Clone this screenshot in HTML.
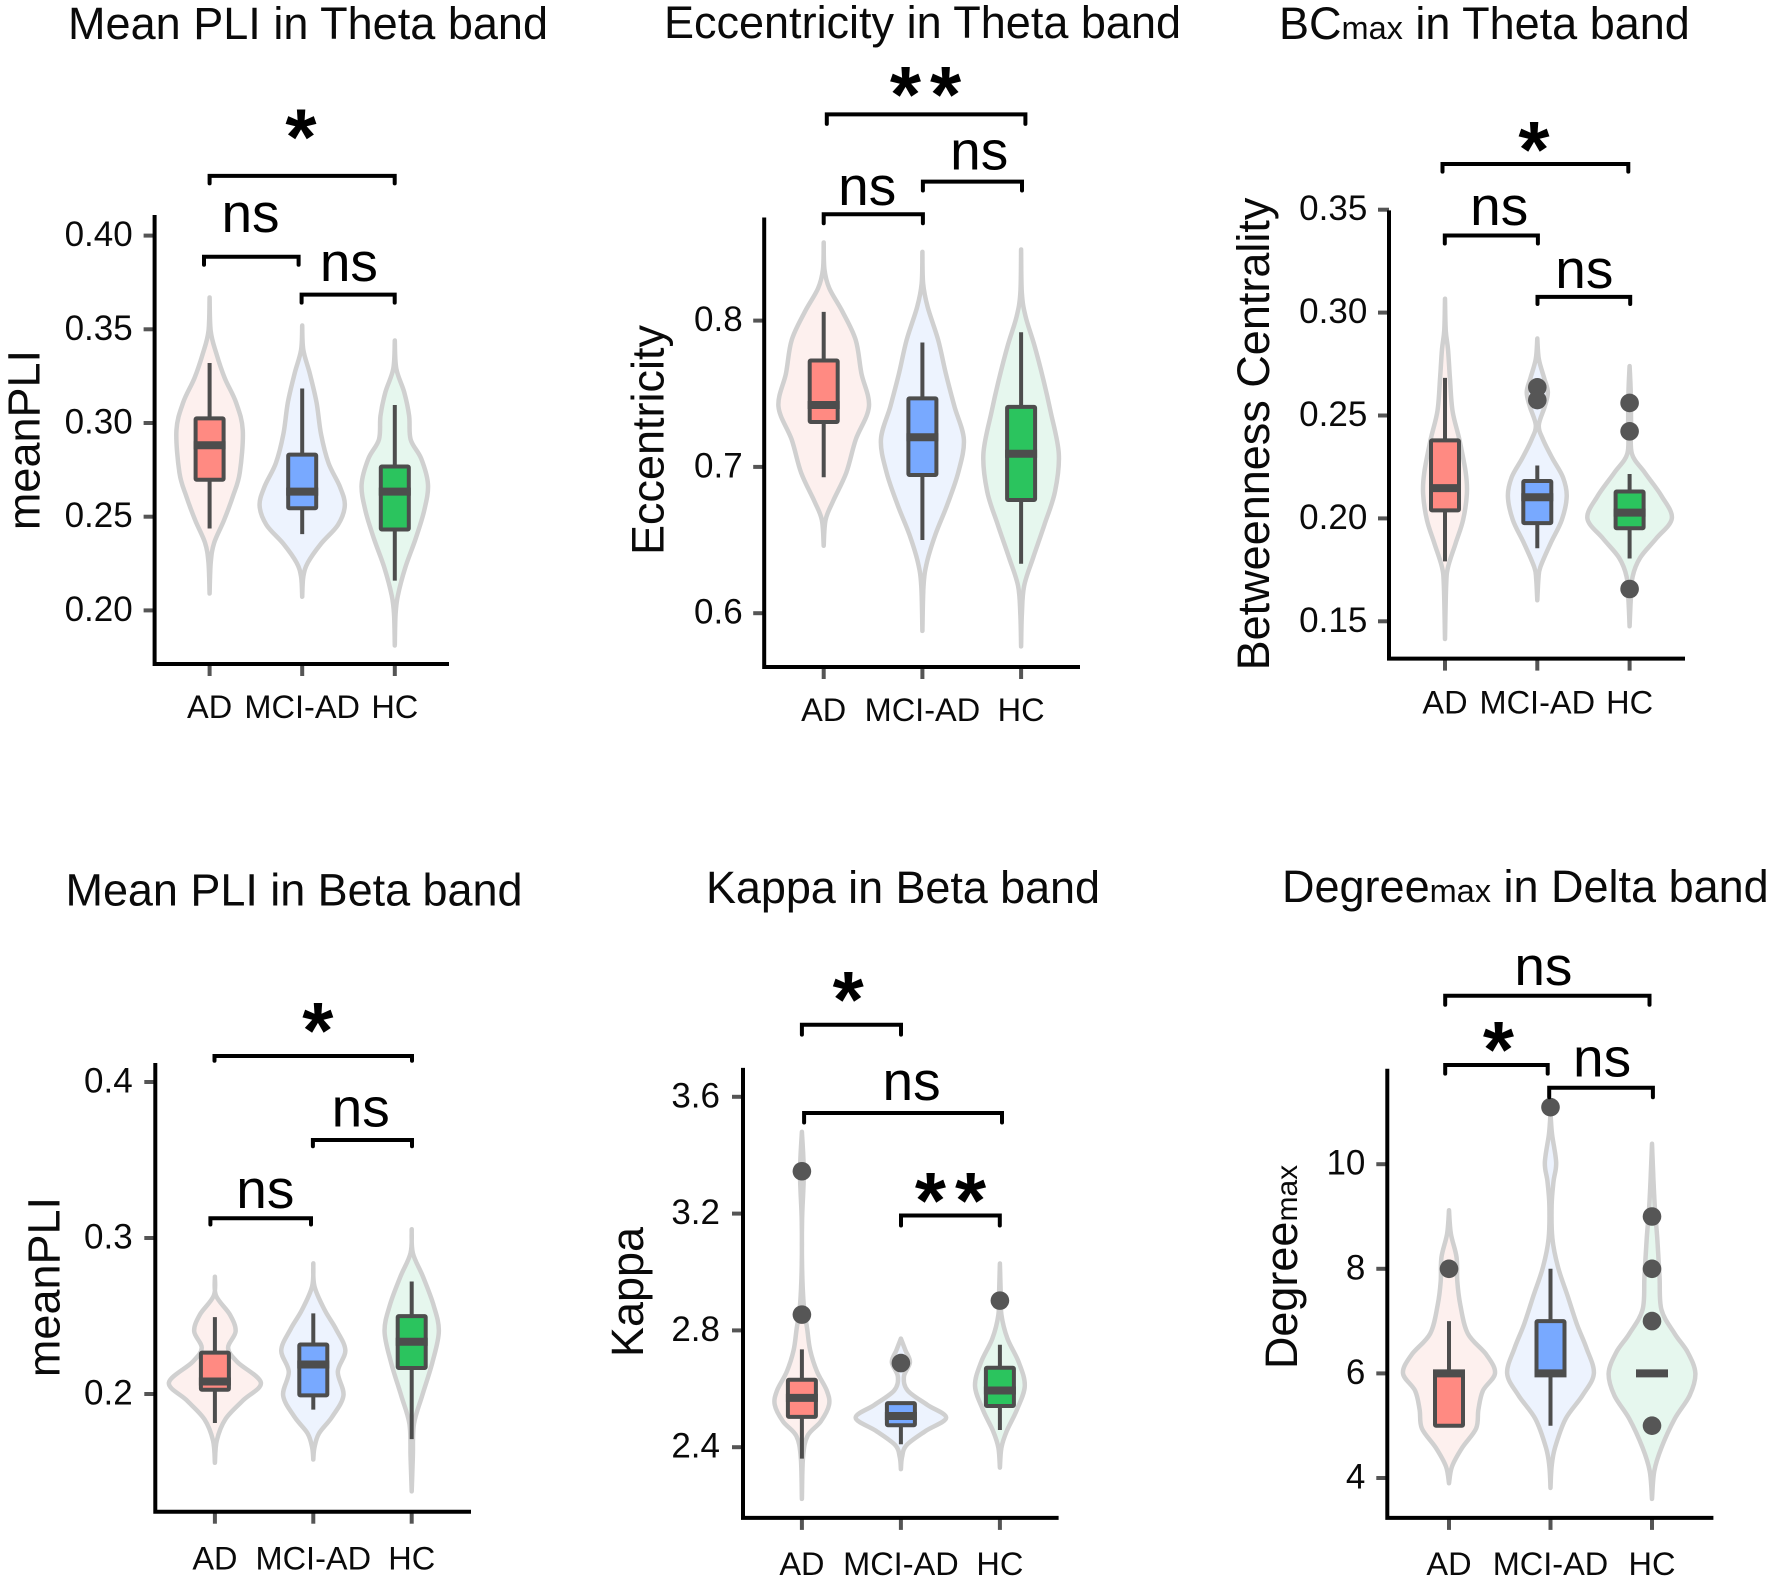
<!DOCTYPE html>
<html lang="en">
<head>
<meta charset="utf-8">
<title>Violin and box plots of network measures</title>
<style>
html,body{margin:0;padding:0;background:#fff;}
svg{display:block;}
text{font-family:"Liberation Sans",sans-serif;fill:#0a0a0a;}
.title{font-size:45px;}
.sub{font-size:32.5px;}
.ylab{font-size:45px;text-anchor:middle;}
.ylabsub{font-size:30px;}
.ns{font-size:55px;text-anchor:middle;fill:#000;}
.star{font-size:80px;font-weight:bold;text-anchor:middle;fill:#000;}
.stars{letter-spacing:9px;}
.br{fill:none;stroke:#000;stroke-width:4;stroke-linecap:round;}
</style>
</head>
<body>
<svg id="figure" xmlns="http://www.w3.org/2000/svg" width="1772" height="1583" viewBox="0 0 1772 1583">
<rect x="0" y="0" width="1772" height="1583" fill="#fff"/>

<g id="panel-1">
<text class="title" x="68" y="39" textLength="480">Mean PLI in Theta band</text>
<text class="ylab" transform="translate(39.6 440) rotate(-90)">meanPLI</text>
</g>
<g id="panel-2">
<text class="title" x="664" y="38" textLength="517">Eccentricity in Theta band</text>
<text class="ylab" transform="translate(663.5 440) rotate(-90)">Eccentricity</text>
</g>
<g id="panel-3">
<text class="title" x="1279" y="39">BC<tspan class="sub">max</tspan> in Theta band</text>
<text class="ylab" transform="translate(1268.9 434) rotate(-90)">Betweenness Centrality</text>
</g>
<g id="panel-4">
<text class="title" x="65.5" y="905.5" textLength="457">Mean PLI in Beta band</text>
<text class="ylab" transform="translate(59.6 1287) rotate(-90)">meanPLI</text>
</g>
<g id="panel-5">
<text class="title" x="706" y="903" textLength="394">Kappa in Beta band</text>
<text class="ylab" transform="translate(642.8 1292) rotate(-90)">Kappa</text>
</g>
<g id="panel-6">
<text class="title" x="1282" y="902">Degree<tspan class="sub">max</tspan> in Delta band</text>
<text class="ylab" transform="translate(1297 1267) rotate(-90)">Degree<tspan class="ylabsub">max</tspan></text>
</g>

<g id="annotations-1">
<path class="br" d="M209.6 183.4V175.9H394.7V183.4"/>
<text class="star" x="301" y="164.5">*</text>
<path class="br" d="M204 264.8V256.7H298.6V264.8"/>
<text class="ns" x="250.5" y="232">ns</text>
<path class="br" d="M301.6 302.6V294.6H394.7V302.6"/>
<text class="ns" x="348.9" y="281">ns</text>
</g>
<g id="annotations-2">
<path class="br" d="M826.8 123.9V114.4H1025.4V123.9"/>
<text class="star stars" x="930" y="122">**</text>
<path class="br" d="M823.7 223.2V214.2H922.9V223.2"/>
<text class="ns" x="867.2" y="205">ns</text>
<path class="br" d="M922.9 190.5V181.6H1022V190.5"/>
<text class="ns" x="979.2" y="169.5">ns</text>
</g>
<g id="annotations-3">
<path class="br" d="M1442.5 171.6V164H1628.3V171.6"/>
<text class="star" x="1534" y="177">*</text>
<path class="br" d="M1444.8 243.5V235.5H1537.9V243.5"/>
<text class="ns" x="1499.2" y="225">ns</text>
<path class="br" d="M1537.5 304V296.9H1630.2V304"/>
<text class="ns" x="1584.3" y="288">ns</text>
</g>
<g id="annotations-4">
<path class="br" d="M214.5 1060.7V1056H412V1060.7"/>
<text class="star" x="317.8" y="1058">*</text>
<path class="br" d="M312.9 1146.2V1140H412V1146.2"/>
<text class="ns" x="360.7" y="1126.7">ns</text>
<path class="br" d="M210.4 1224.5V1218.3H311V1224.5"/>
<text class="ns" x="265.3" y="1208">ns</text>
</g>
<g id="annotations-5">
<path class="br" d="M801.9 1034.6V1024.7H901V1034.6"/>
<text class="star" x="848.2" y="1027">*</text>
<path class="br" d="M804.1 1122.5V1113H1002V1122.5"/>
<text class="ns" x="911.6" y="1100">ns</text>
<path class="br" d="M901 1225.5V1215.5H999.8V1225.5"/>
<text class="star stars" x="955" y="1228">**</text>
</g>
<g id="annotations-6">
<path class="br" d="M1445.2 1004.7V995.7H1649.5V1004.7"/>
<text class="ns" x="1543.4" y="985">ns</text>
<path class="br" d="M1445.2 1073.6V1065H1547.7V1073.6"/>
<text class="star" x="1498.5" y="1077">*</text>
<path class="br" d="M1549.2 1097.3V1087.8H1652.9V1097.3"/>
<text class="ns" x="1602.1" y="1076.7">ns</text>
</g>
</svg>

<script>
const categories = ['AD', 'MCI-AD', 'HC'];

/* Panel 1: Mean PLI, Theta */
const p1Ticks = [0.40, 0.35, 0.30, 0.25, 0.20];
const p1TickLabels = ['0.40', '0.35', '0.30', '0.25', '0.20'];
const p1Q1 = [0.2697, 0.2545, 0.2432];
const p1Median = [0.2881, 0.2634, 0.2634];
const p1Q3 = [0.3025, 0.2831, 0.2768];
const p1WhiskerLow = [0.2437, 0.2407, 0.2159];
const p1WhiskerHigh = [0.332, 0.3184, 0.3096];
const p1Outliers = [[], [], []];
const p1ViolinLevels = [
  [0.367, 0.349, 0.337, 0.324, 0.311, 0.296, 0.2735, 0.261, 0.248, 0.236, 0.2255, 0.209],
  [0.352, 0.339, 0.3265, 0.311, 0.294, 0.2785, 0.266, 0.256, 0.2457, 0.2356, 0.2255, 0.218, 0.2073],
  [0.344, 0.329, 0.3164, 0.3038, 0.2912, 0.281, 0.2672, 0.2533, 0.2381, 0.223, 0.2078, 0.1977, 0.1813]
];
const p1ViolinDensity = [
  [0, 3, 18, 40, 70, 88, 80, 62, 38, 12, 3, 0],
  [0, 3, 20, 38, 50, 70, 100, 113, 95, 50, 15, 3, 0],
  [0, 4, 25, 38, 42, 70, 88, 78, 55, 28, 8, 2, 0]
];

/* Panel 2: Eccentricity, Theta */
const p2Ticks = [0.8, 0.7, 0.6];
const p2TickLabels = ['0.8', '0.7', '0.6'];
const p2Q1 = [0.7307, 0.6945, 0.6774];
const p2Median = [0.7423, 0.7203, 0.709];
const p2Q3 = [0.7727, 0.7468, 0.741];
const p2WhiskerLow = [0.6929, 0.65, 0.6338];
const p2WhiskerHigh = [0.806, 0.785, 0.792];
const p2Outliers = [[], [], []];
const p2ViolinLevels = [
  [0.8534, 0.835, 0.822, 0.806, 0.7866, 0.764, 0.7413, 0.7187, 0.6961, 0.6767, 0.6638, 0.6461],
  [0.847, 0.8253, 0.8092, 0.7866, 0.764, 0.7413, 0.7187, 0.6961, 0.6735, 0.6541, 0.6348, 0.6186, 0.5879],
  [0.8486, 0.8189, 0.8027, 0.7833, 0.7607, 0.7381, 0.709, 0.6832, 0.6606, 0.638, 0.6186, 0.5992, 0.5773]
];
const p2ViolinDensity = [
  [0, 2, 15, 50, 85, 100, 120, 85, 60, 25, 5, 0],
  [0, 2, 14, 42, 62, 85, 110, 95, 65, 35, 12, 3, 0],
  [0, 2, 12, 35, 58, 78, 100, 90, 62, 32, 8, 2, 0]
];

/* Panel 3: Betweenness centrality, Theta */
const p3Ticks = [0.35, 0.30, 0.25, 0.20, 0.15];
const p3TickLabels = ['0.35', '0.30', '0.25', '0.20', '0.15'];
const p3Q1 = [0.2039, 0.1977, 0.1952];
const p3Median = [0.2147, 0.2103, 0.2028];
const p3Q3 = [0.2379, 0.2182, 0.2131];
const p3WhiskerLow = [0.1791, 0.1855, 0.1805];
const p3WhiskerHigh = [0.2683, 0.2257, 0.2216];
const p3Outliers = [[], [0.2637, 0.2575], [0.2561, 0.2423, 0.1657]];
const p3ViolinLevels = [
  [0.3067, 0.2913, 0.2821, 0.2683, 0.2522, 0.2384, 0.2223, 0.212, 0.1993, 0.1878, 0.1763, 0.1671, 0.1414],
  [0.2874, 0.2775, 0.2683, 0.2614, 0.2545, 0.2453, 0.2384, 0.2292, 0.22, 0.2108, 0.1993, 0.1878, 0.1763, 0.1706, 0.1602],
  [0.274, 0.2614, 0.2453, 0.2315, 0.2223, 0.2108, 0.2, 0.1901, 0.1809, 0.1717, 0.1602, 0.1476]
];
const p3ViolinDensity = [
  [0, 2, 8, 13, 20, 38, 55, 58, 48, 28, 8, 3, 0],
  [0, 4, 18, 28, 20, 4, 15, 40, 68, 78, 65, 35, 8, 3, 0],
  [0, 3, 4, 6, 40, 85, 112, 70, 28, 8, 3, 0]
];

/* Panel 4: Mean PLI, Beta */
const p4Ticks = [0.4, 0.3, 0.2];
const p4TickLabels = ['0.4', '0.3', '0.2'];
const p4Q1 = [0.2027, 0.1991, 0.2167];
const p4Median = [0.208, 0.2189, 0.2335];
const p4Q3 = [0.2265, 0.2317, 0.2499];
const p4WhiskerLow = [0.1814, 0.19, 0.1711];
const p4WhiskerHigh = [0.2493, 0.2517, 0.2721];
const p4Outliers = [[], [], []];
const p4ViolinLevels = [
  [0.2752, 0.263, 0.2508, 0.2402, 0.2295, 0.2204, 0.2073, 0.196, 0.1839, 0.1702, 0.1559],
  [0.2837, 0.2691, 0.2539, 0.2417, 0.228, 0.2143, 0.1991, 0.1854, 0.1747, 0.1656, 0.158],
  [0.3056, 0.2904, 0.2752, 0.2569, 0.2402, 0.2204, 0.1991, 0.1808, 0.1595, 0.1376]
];
const p4ViolinDensity = [
  [0, 3, 40, 55, 35, 60, 122, 75, 28, 5, 0],
  [0, 3, 30, 60, 85, 65, 80, 50, 15, 3, 0],
  [0, 3, 30, 58, 72, 55, 28, 6, 3, 0]
];

/* Panel 5: Kappa, Beta */
const p5Ticks = [3.6, 3.2, 2.8, 2.4];
const p5TickLabels = ['3.6', '3.2', '2.8', '2.4'];
const p5Q1 = [2.504, 2.475, 2.541];
const p5Median = [2.569, 2.507, 2.594];
const p5Q3 = [2.631, 2.551, 2.672];
const p5WhiskerLow = [2.361, 2.41, 2.459];
const p5WhiskerHigh = [2.735, 2.551, 2.751];
const p5Outliers = [[3.345, 2.854], [2.688], [2.902]];
const p5ViolinLevels = [
  [3.48, 3.34, 3.179, 3.016, 2.886, 2.805, 2.732, 2.659, 2.594, 2.545, 2.488, 2.439, 2.366, 2.223],
  [2.772, 2.732, 2.691, 2.642, 2.594, 2.545, 2.501, 2.455, 2.407, 2.366, 2.325],
  [3.029, 2.935, 2.854, 2.772, 2.691, 2.61, 2.528, 2.455, 2.398, 2.33]
];
const p5ViolinDensity = [
  [0, 5, 0.5, 0.5, 5, 14, 22, 40, 66, 72, 50, 15, 3, 0],
  [0, 12, 24, 8, 18, 70, 120, 65, 15, 3, 0],
  [0, 2, 4, 20, 50, 66, 45, 18, 4, 0]
];

/* Panel 6: Degree max, Delta */
const p6Ticks = [10, 8, 6, 4];
const p6TickLabels = ['10', '8', '6', '4'];
const p6Q1 = [5, 6, 6];
const p6Median = [6, 6, 6];
const p6Q3 = [6, 7, 6];
const p6WhiskerLow = [5, 5, 6];
const p6WhiskerHigh = [7, 8, 6];
const p6Outliers = [[8], [11.09], [9, 8, 7, 5]];
const p6ViolinLevels = [
  [9.12, 8.67, 8.22, 7.76, 7.31, 6.76, 6.35, 6, 5.67, 5.31, 4.95, 4.58, 4.22, 3.9],
  [10.98, 10.58, 10.03, 9.67, 9.21, 8.58, 8.03, 7.49, 6.94, 6.49, 6, 5.58, 5.13, 4.58, 4.22, 3.81],
  [10.39, 9.67, 9.12, 8.58, 7.85, 7.22, 6.76, 6.4, 6, 5.58, 5.13, 4.58, 4.13, 3.6]
];
const p6ViolinDensity = [
  [0, 5, 20, 22, 30, 50, 100, 122, 90, 78, 72, 35, 8, 0],
  [0, 4, 15, 8, 3, 5, 20, 45, 70, 95, 115, 85, 40, 12, 3, 0],
  [0, 4, 8, 14, 20, 25, 60, 95, 115, 100, 60, 25, 6, 0]
];

const boxFill = ['#ff8a82', '#78a9ff', '#2bc45e'];
const violinFill = ['#fdf0ee', '#edf3fe', '#e6f7ee'];
const DARK = '#4d4d4d';
const NS = 'http://www.w3.org/2000/svg';

const panels = [
  { id: 'panel-1', left: 154.6, right: 449, top: 215, bottom: 664, x0: 209.6, dx: 92.6, v0: 0.30, y0: 423, v1: 0.20, y1: 610.4, labelRight: 132.7, labelBase: 718,
    ticks: p1Ticks, tickLabels: p1TickLabels, q1: p1Q1, med: p1Median, q3: p1Q3, lo: p1WhiskerLow, hi: p1WhiskerHigh, out: p1Outliers, lev: p1ViolinLevels, den: p1ViolinDensity },
  { id: 'panel-2', left: 764.2, right: 1080, top: 217.5, bottom: 667, x0: 823.7, dx: 98.7, v0: 0.8, y0: 320.6, v1: 0.6, y1: 613.2, labelRight: 742.7, labelBase: 721,
    ticks: p2Ticks, tickLabels: p2TickLabels, q1: p2Q1, med: p2Median, q3: p2Q3, lo: p2WhiskerLow, hi: p2WhiskerHigh, out: p2Outliers, lev: p2ViolinLevels, den: p2ViolinDensity },
  { id: 'panel-3', left: 1389, right: 1685, top: 210.4, bottom: 658.6, x0: 1445, dx: 92.3, v0: 0.35, y0: 209.7, v1: 0.15, y1: 621.3, labelRight: 1367.3, labelBase: 713.5,
    ticks: p3Ticks, tickLabels: p3TickLabels, q1: p3Q1, med: p3Median, q3: p3Q3, lo: p3WhiskerLow, hi: p3WhiskerHigh, out: p3Outliers, lev: p3ViolinLevels, den: p3ViolinDensity },
  { id: 'panel-4', left: 155.3, right: 471, top: 1063, bottom: 1511.7, x0: 214.9, dx: 98.4, v0: 0.4, y0: 1082, v1: 0.2, y1: 1394, labelRight: 132.7, labelBase: 1569.5,
    ticks: p4Ticks, tickLabels: p4TickLabels, q1: p4Q1, med: p4Median, q3: p4Q3, lo: p4WhiskerLow, hi: p4WhiskerHigh, out: p4Outliers, lev: p4ViolinLevels, den: p4ViolinDensity },
  { id: 'panel-5', left: 743, right: 1058.6, top: 1067.9, bottom: 1517.9, x0: 801.9, dx: 99, v0: 3.6, y0: 1096.8, v1: 2.4, y1: 1447.2, labelRight: 720, labelBase: 1575.2,
    ticks: p5Ticks, tickLabels: p5TickLabels, q1: p5Q1, med: p5Median, q3: p5Q3, lo: p5WhiskerLow, hi: p5WhiskerHigh, out: p5Outliers, lev: p5ViolinLevels, den: p5ViolinDensity },
  { id: 'panel-6', left: 1387.3, right: 1713.4, top: 1068.8, bottom: 1517.9, x0: 1449, dx: 101.5, v0: 10, y0: 1164.2, v1: 4, y1: 1478, labelRight: 1365.4, labelBase: 1575.2,
    ticks: p6Ticks, tickLabels: p6TickLabels, q1: p6Q1, med: p6Median, q3: p6Q3, lo: p6WhiskerLow, hi: p6WhiskerHigh, out: p6Outliers, lev: p6ViolinLevels, den: p6ViolinDensity }
];

function mk(tag, attrs, parent) {
  const el = document.createElementNS(NS, tag);
  for (const k in attrs) el.setAttribute(k, attrs[k]);
  parent.appendChild(el);
  return el;
}

function smoothThrough(pts, start) {
  let d = start ? 'M' + pts[0][0].toFixed(2) + ' ' + pts[0][1].toFixed(2) : '';
  for (let i = 0; i < pts.length - 1; i++) {
    const p0 = pts[Math.max(0, i - 1)], p1 = pts[i], p2 = pts[i + 1], p3 = pts[Math.min(pts.length - 1, i + 2)];
    const c1x = p1[0] + (p2[0] - p0[0]) / 6, c1y = p1[1] + (p2[1] - p0[1]) / 6;
    const c2x = p2[0] - (p3[0] - p1[0]) / 6, c2y = p2[1] - (p3[1] - p1[1]) / 6;
    d += 'C' + c1x.toFixed(2) + ' ' + c1y.toFixed(2) + ' ' + c2x.toFixed(2) + ' ' + c2y.toFixed(2) + ' ' + p2[0].toFixed(2) + ' ' + p2[1].toFixed(2);
  }
  return d;
}

function drawPanel(p) {
  const root = document.getElementById(p.id);
  const xScale = i => p.x0 + i * p.dx;
  const yScale = v => p.y0 + (v - p.v0) * (p.y1 - p.y0) / (p.v1 - p.v0);
  const widthScale = d => d * 0.377;

  categories.forEach((cat, i) => {
    const cx = xScale(i);
    const g = mk('g', {}, root);
    
    

    const rightSide = p.lev[i].map((v, k) => [cx + widthScale(p.den[i][k]), yScale(v)]);
    const leftSide = p.lev[i].map((v, k) => [cx - widthScale(p.den[i][k]), yScale(v)]).reverse();
    const violin = mk('path', {
      d: smoothThrough(rightSide, true) + smoothThrough(leftSide, false) + 'Z',
      fill: violinFill[i], stroke: '#d0d0d0', 'stroke-width': 4.5, 'stroke-linejoin': 'round'
    }, g);
    
    

    if (p.hi[i] !== p.lo[i]) {
      const whisker = mk('line', { x1: cx, x2: cx, y1: yScale(p.lo[i]), y2: yScale(p.hi[i]), stroke: DARK, 'stroke-width': 4 }, g);
      
      
    }

    if (p.q3[i] !== p.q1[i]) {
      const box = mk('rect', {
        x: cx - 14, width: 28, y: yScale(p.q3[i]), height: yScale(p.q1[i]) - yScale(p.q3[i]),
        fill: boxFill[i], stroke: DARK, 'stroke-width': 4, rx: 1
      }, g);
      
      
    }

    const median = mk('line', { x1: cx - 16, x2: cx + 16, y1: yScale(p.med[i]), y2: yScale(p.med[i]), stroke: DARK, 'stroke-width': 8 }, g);
    
    

    p.out[i].forEach(v => {
      const dot = mk('circle', { cx: cx, cy: yScale(v), r: 9.3, fill: '#565656' }, g);
      
      
    });

    const xTick = mk('line', { x1: cx, x2: cx, y1: p.bottom, y2: p.bottom + 12, stroke: '#555', 'stroke-width': 4 }, root);
    
    

    const xLabel = mk('text', { x: cx, y: p.labelBase, 'text-anchor': 'middle', 'font-size': 32.5 }, root);
    xLabel.textContent = cat;
    
    
  });

  p.ticks.forEach((t, i) => {
    const yTick = mk('line', { x1: p.left - 11, x2: p.left, y1: yScale(t), y2: yScale(t), stroke: '#555', 'stroke-width': 4 }, root);
    
    

    const yLabel = mk('text', { x: p.labelRight, y: yScale(t) + 10.5, 'text-anchor': 'end', 'font-size': 35 }, root);
    yLabel.textContent = p.tickLabels[i];
    
    
  });

  const axis = mk('path', {
    d: 'M' + p.left + ' ' + p.top + 'V' + p.bottom + 'H' + p.right,
    fill: 'none', stroke: '#000', 'stroke-width': 4
  }, root);
  
  
}

panels.forEach(drawPanel);
</script>
</body>
</html>
